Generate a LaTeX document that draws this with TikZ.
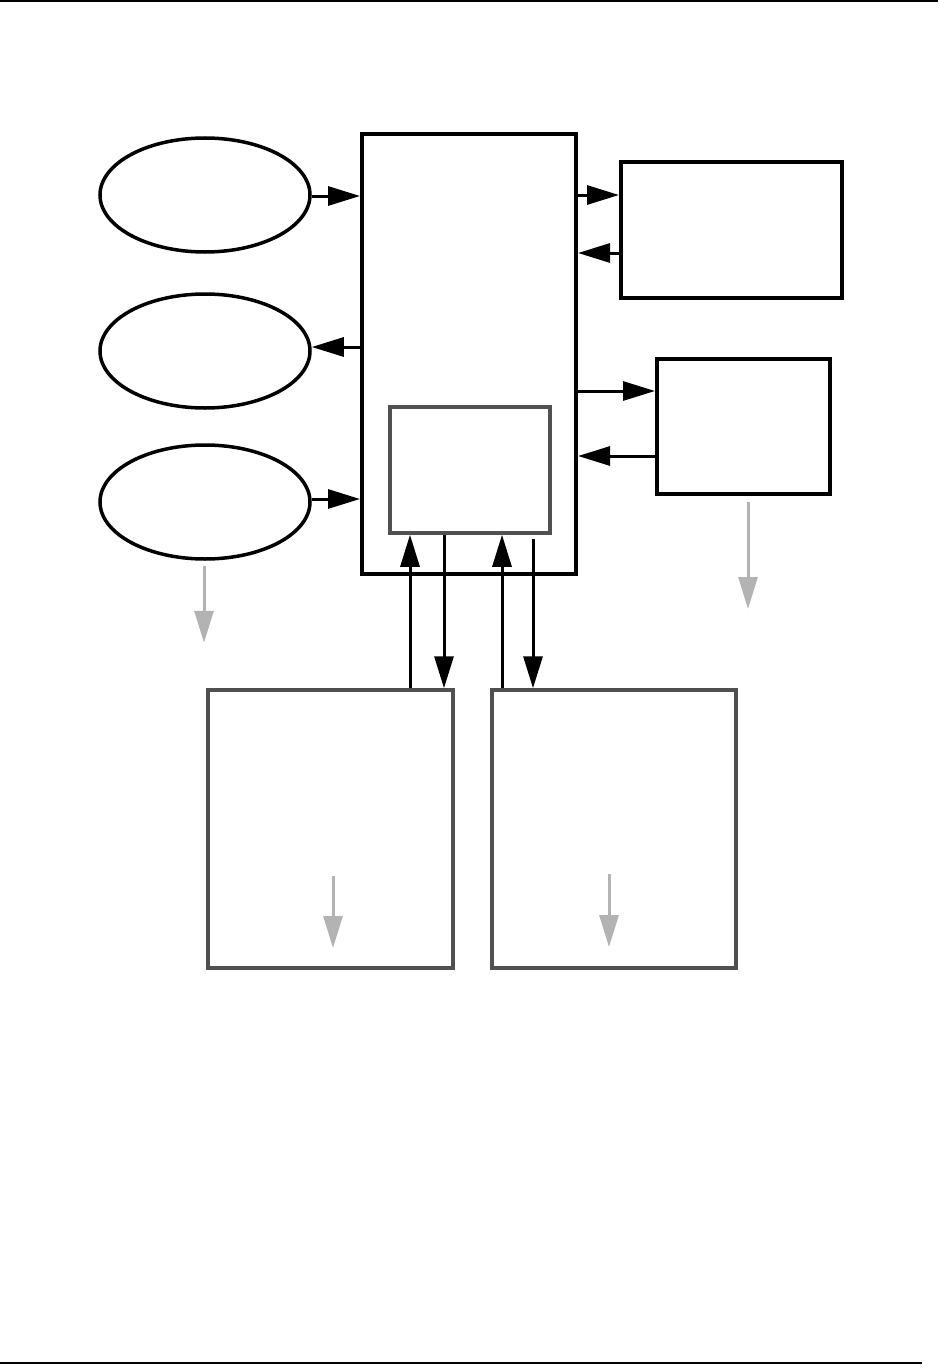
\documentclass[tikz,border=0pt]{standalone}
\usepackage{tikz}
\usepackage{xcolor}
\definecolor{boxgray}{RGB}{80, 80, 80}
\definecolor{drain}{RGB}{179, 179, 179}
\usetikzlibrary{shapes.geometric, arrows.meta, positioning, calc}

\begin{document}
\begin{tikzpicture}[x=1pt, y=-1pt,
                    oval/.style={ellipse, draw, line width=3.5pt, minimum width=210pt, minimum height=114pt},
                    unit/.style={rectangle, draw, line width=4pt},
                    subunit/.style={rectangle, draw=boxgray, line width=3.5pt},
                    flow/.style={-{Triangle[length=32pt, width=19pt]}, line width=3pt},
                    drainflow/.style={-{Triangle[length=32pt, width=19pt]}, line width=3pt, drain}]
                    \useasboundingbox (0, 0) rectangle (938, 1370);
                    
                    % Page rules
                    \draw[line width=2pt] (0, 1) -- (938, 1);
                    \draw[line width=1.5pt] (0, 1363) -- (922, 1363);
                    
                    % Sources
                    \node[oval] (srcA) at (205, 195) {};
                    \node[oval] (srcB) at (205, 351) {};
                    \node[oval] (srcC) at (205, 502) {};
                    
                    % Main unit and its core
                    \node[unit, minimum width=214pt, minimum height=440pt] (main) at (469, 354) {};
                    \node[subunit, minimum width=160pt, minimum height=126pt] (core) at (470, 470) {};
                    
                    % Devices
                    \node[unit, minimum width=221pt, minimum height=136pt] (devA) at (731.5, 230) {};
                    \node[unit, minimum width=173pt, minimum height=135pt] (devB) at (743.5, 426.5) {};
                    
                    % Stores
                    \node[subunit, minimum width=245pt, minimum height=278pt] (storeA) at (330.5, 829) {};
                    \node[subunit, minimum width=244pt, minimum height=278pt] (storeB) at (614, 829) {};
                    
                    % Source links
                    \draw[flow] ([yshift=-1pt]srcA.east) -- ([yshift=-1pt]srcA.east -| main.west);
                    \draw[flow] ([yshift=4pt]main.west |- srcB.east) -- ([yshift=4pt]srcB.east);
                    \draw[flow] ([yshift=3pt]srcC.east) -- ([yshift=3pt]srcC.east -| main.west);
                    
                    % Device links
                    \draw[flow] ([yshift=35pt]main.east |- devA.west) -- ([yshift=35pt]devA.west);
                    \draw[flow] ([yshift=-23pt]devA.west) -- ([yshift=-23pt]devA.west -| main.east);
                    \draw[flow] ([yshift=35.5pt]main.east |- devB.west) -- ([yshift=35.5pt]devB.west);
                    \draw[flow] ([yshift=-29.5pt]devB.west) -- ([yshift=-29.5pt]devB.west -| main.east);
                    
                    % Store links
                    \draw[flow] ([xshift=79.5pt]storeA.north) -- ([xshift=79.5pt]storeA.north |- core.south);
                    \draw[flow] ([xshift=-26pt]core.south) -- ([xshift=-26pt]core.south |- storeA.north);
                    \draw[flow] ([xshift=-112pt]storeB.north) -- ([xshift=-112pt]storeB.north |- core.south);
                    \draw[flow] ([xshift=63pt, yshift=-4pt]core.south) -- ([xshift=63pt]core.south |- storeB.north);
                    
                    % Outflows
                    \draw[drainflow] ([xshift=-1pt, yshift=-5pt]srcC.south) -- ++(0, 77);
                    \draw[drainflow] ([xshift=4.5pt, yshift=-6pt]devB.south) -- ++(0, 107);
                    \draw[drainflow] ([xshift=2.5pt, yshift=-47pt]storeA.center) -- ++(0, 72);
                    \draw[drainflow] ([xshift=-5pt, yshift=-45pt]storeB.center) -- ++(0, 73);
                \end{tikzpicture}
\end{document}
